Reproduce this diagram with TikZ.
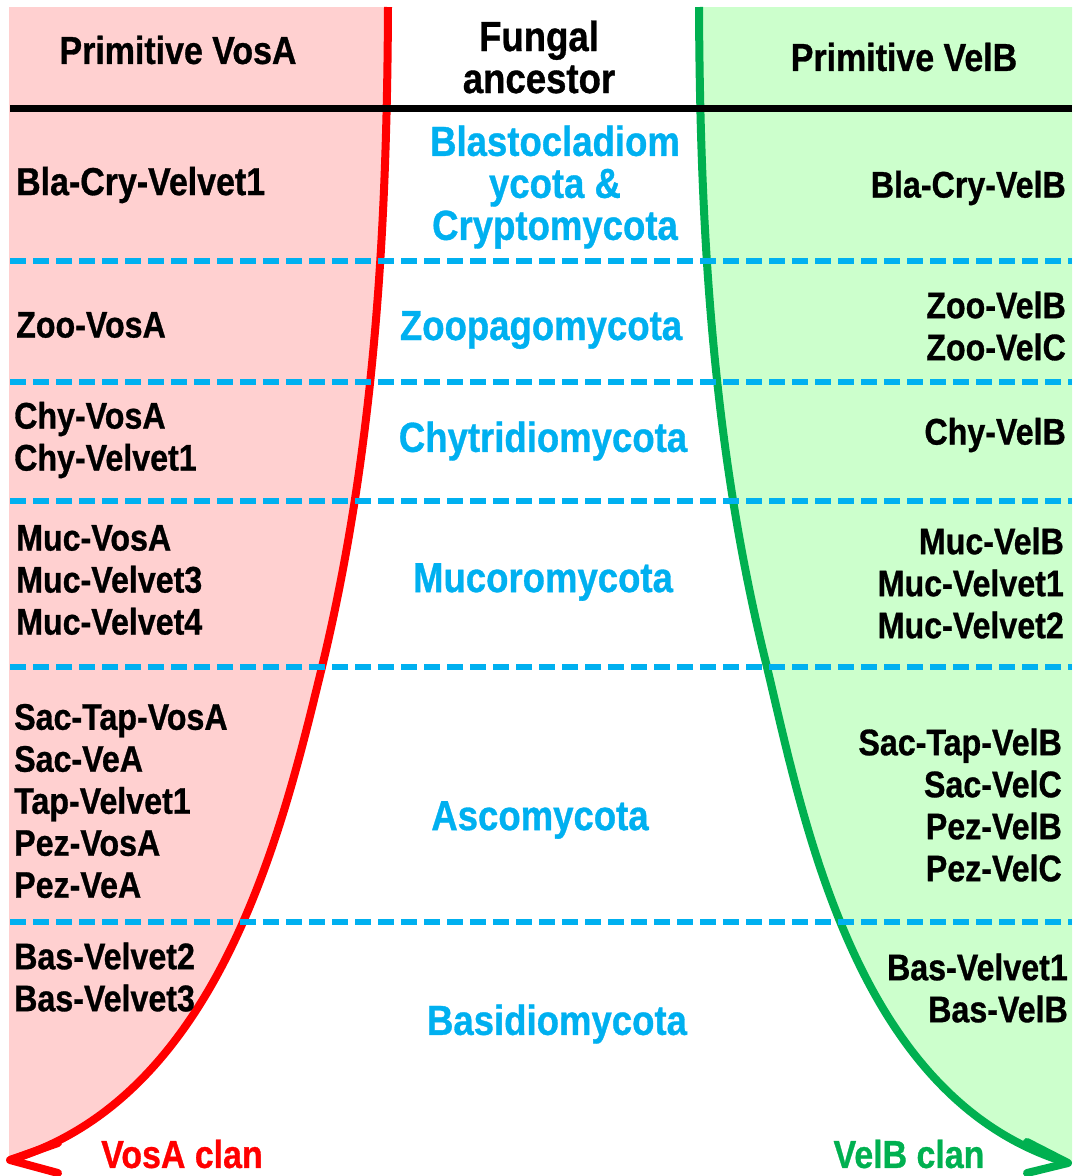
\documentclass[tikz,border=0pt]{standalone}
\usepackage{fontspec}
\setmainfont{Liberation Sans}[FakeStretch=0.87, FakeBold=0.8]
\usetikzlibrary{arrows.meta}
\definecolor{cpink}{RGB}{255,208,208}
\definecolor{cgfill}{RGB}{204,255,204}
\definecolor{cred}{RGB}{255,0,0}
\definecolor{cgreen}{RGB}{0,176,80}
\definecolor{cblue}{RGB}{0,176,240}
\begin{document}
\begin{tikzpicture}[x=1pt,y=-1pt,
  hdr/.style={font=\fontsize{39}{42}\selectfont\bfseries, inner sep=0pt, align=center},
  dat/.style={font=\fontsize{37}{42}\selectfont\bfseries, inner sep=0pt},
  datl/.style={dat, anchor=west, align=left},
  datr/.style={dat, anchor=east, align=right},
  blu/.style={font=\fontsize{42}{42}\selectfont\bfseries, text=cblue, inner sep=0pt, align=center},
  clanlbl/.style={font=\fontsize{39}{42}\selectfont\bfseries, inner sep=0pt},
  sep/.style={cblue, line width=5.5pt, dash pattern=on 16pt off 7pt},
  clan/.style={line width=8pt},
  barb/.style={line width=8pt, line cap=round, line join=round}
]
\useasboundingbox (0,0) rectangle (1072,1176);
% key points of the clan curves
\coordinate (rtop) at (388,7);
\coordinate (rmid) at (322,667);
\coordinate (rtip) at (10,1160);
\coordinate (gtop) at (699,7);
\coordinate (gmid) at (767,667);
\coordinate (gtip) at (1068,1163);
% fills
\fill[cpink] (9,7) -- (rtop) .. controls (387,227) and (375,447) .. (rmid)
  .. controls (283,827) and (220,1097) .. (rtip) -- (9,1160) -- cycle;
\fill[cgfill] (1072,7) -- (gtop) .. controls (700,227) and (712,447) .. (gmid)
  .. controls (805,827) and (858,1100) .. (gtip) -- (1072,1163) -- cycle;
% clan curves
\draw[clan, cred] (rtop) .. controls (387,227) and (375,447) .. (rmid)
  .. controls (283,827) and (220,1097) .. (rtip);
\draw[clan, cgreen] (gtop) .. controls (700,227) and (712,447) .. (gmid)
  .. controls (805,827) and (858,1100) .. (gtip);
% arrow heads
\coordinate (rb1) at (58,1143);
\coordinate (rb2) at (58,1173);
\draw[barb, cred] (rb1) -- (rtip) -- (rb2);
\coordinate (gb1) at (1027,1142);
\coordinate (gb2) at (1027,1173);
\draw[barb, cgreen] (gb1) -- (gtip) -- (gb2);
% header rule
\coordinate (hl) at (10,108);
\coordinate (hr) at (1072,108);
\draw[line width=7pt] (hl) -- (hr);
% separators
\foreach \yy/\nm in {261/a,382/b,501/c,667/d,922/e}{
  \coordinate (s\nm l) at (10,\yy);
  \coordinate (s\nm r) at (1072,\yy);
  \draw[sep] (s\nm l) -- (s\nm r);
}
% headers
\node[hdr] (h1) at (178,50) {Primitive VosA};
\node[hdr, font=\fontsize{42}{42}\selectfont\bfseries] (h2) at (539,57) {Fungal\\ancestor};
\node[hdr] (h3) at (904,57) {Primitive VelB};
% left column
\node[datl, font=\fontsize{39}{42}\selectfont\bfseries] (l1) at (16,185) {Bla-Cry-Velvet1};
\node[datl] (l2) at (16,325) {Zoo-VosA};
\node[datl] (l3) at (14,440) {Chy-VosA\\Chy-Velvet1};
\node[datl] (l4) at (16,580) {Muc-VosA\\Muc-Velvet3\\Muc-Velvet4};
\node[datl] (l5) at (14,801) {Sac-Tap-VosA\\Sac-VeA\\Tap-Velvet1\\Pez-VosA\\Pez-VeA};
\node[datl] (l6) at (14,977) {Bas-Velvet2\\Bas-Velvet3};
% right column
\node[datr] (r1) at (1066,188) {Bla-Cry-VelB};
\node[datr] (r2) at (1066,326) {Zoo-VelB\\Zoo-VelC};
\node[datr] (r3) at (1066,435) {Chy-VelB};
\node[datr] (r4) at (1064,583) {Muc-VelB\\Muc-Velvet1\\Muc-Velvet2};
\node[datr] (r5) at (1062,805) {Sac-Tap-VelB\\Sac-VelC\\Pez-VelB\\Pez-VelC};
\node[datr] (r6) at (1068,988) {Bas-Velvet1\\Bas-VelB};
% phyla
\node[blu] (b1) at (555,187) {Blastocladiom\\ycota \&\\Cryptomycota};
\node[blu] (b2) at (541,330) {Zoopagomycota};
\node[blu] (b3) at (543,441) {Chytridiomycota};
\node[blu] (b4) at (543,582) {Mucoromycota};
\node[blu] (b5) at (540,820) {Ascomycota};
\node[blu] (b6) at (557,1024) {Basidiomycota};
% clan labels
\node[clanlbl, text=cred] (vc) at (182,1154) {VosA clan};
\node[clanlbl, text=cgreen] (gc) at (909,1154) {VelB clan};
\end{tikzpicture}
\end{document}
